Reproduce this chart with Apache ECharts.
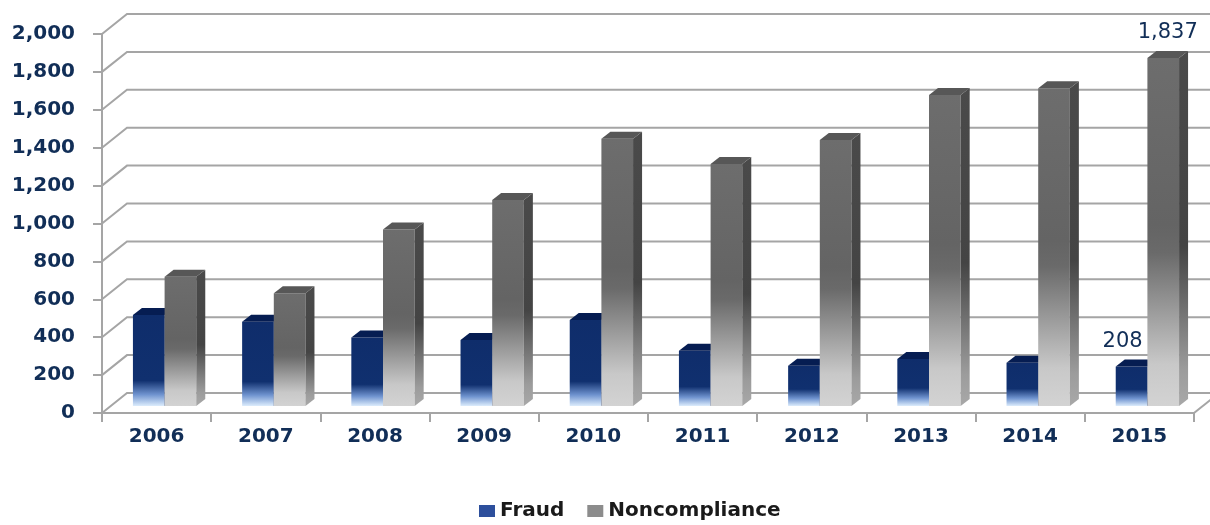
<!DOCTYPE html>
<html><head><meta charset="utf-8">
<script src="https://cdn.jsdelivr.net/npm/echarts@6/dist/echarts.min.js"></script>
<style>html,body{margin:0;padding:0;background:#fff}#c{width:1210px;height:525px}</style>
</head><body><div id="c"></div>
<script>
const years = ['2006','2007','2008','2009','2010','2011','2012','2013','2014','2015'];
const fraud = [480, 445, 362, 348, 454, 292, 213, 248, 228, 208];
const noncompliance = [682, 595, 932, 1087, 1410, 1277, 1404, 1641, 1677, 1837];
const yTicks = [0, 200, 400, 600, 800, 1000, 1200, 1400, 1600, 1800, 2000];
const labeledYear = '2015';

const FONT = 'DejaVu Sans';
const NAVY = '#112e57';
const GRID_GRAY = '#a5a5a5';

const chart = echarts.init(document.getElementById('c'), null, {renderer: 'canvas'});

function fmt(v) { return v.toLocaleString('en-US'); }

function wallRender(params, api) {
  const cs = params.coordSys;
  const v = api.value(1);
  const y = api.coord([0, v])[1];
  const x0 = cs.x, x1 = cs.x + cs.width;
  const dx = 25, dy = 20;
  const children = [{
    type: 'polyline',
    shape: {points: [[x0, y], [x0 + dx, y - dy], [x1 + 60, y - dy]]},
    style: {stroke: GRID_GRAY, lineWidth: 2, fill: null}
  }];
  if (v === 0) {
    children.push({
      type: 'line',
      shape: {x1: x1, y1: y, x2: x1 + dx, y2: y - dy},
      style: {stroke: GRID_GRAY, lineWidth: 2}
    });
  }
  return {type: 'group', children: children};
}

function barRender(which) {
  return function (params, api) {
    const i = api.value(0), v = api.value(1);
    const base = api.coord([i, 0]);
    const top = api.coord([i, v]);
    const band = api.size([1, 0])[0];
    const w = band * 0.29;
    const cx = base[0];
    const xL = which === 0 ? cx - w : cx;
    const xR = xL + w;
    const yT = top[1], yB = base[1];
    const h = yB - yT;
    const d = 9, dy = 7;
    let frontFill, sideFill, capFill;
    if (which === 0) {
      const fadeLen = 10 + 0.17 * h;
      const s = Math.max(0, 1 - fadeLen / h);
      frontFill = {type: 'linear', x: 0, y: 0, x2: 0, y2: 1, colorStops: [
        {offset: 0, color: '#0f2d6b'}, {offset: s, color: '#10306f'},
        {offset: s + (1 - s) * 0.55, color: '#6f93cf'}, {offset: 1, color: '#dcecfc'}]};
      sideFill = '#0a2560';
      capFill = '#061d52';
    } else {
      frontFill = {type: 'linear', x: 0, y: 0, x2: 0, y2: 1, colorStops: [
        {offset: 0, color: '#6d6d6d'}, {offset: 0.48, color: '#646464'},
        {offset: 0.56, color: '#6a6a6a'}, {offset: 0.88, color: '#c8c8c8'},
        {offset: 1, color: '#d3d3d3'}]};
      sideFill = {type: 'linear', x: 0, y: 0, x2: 0, y2: 1, colorStops: [
        {offset: 0, color: '#4a4a4a'}, {offset: 0.55, color: '#444444'},
        {offset: 0.9, color: '#9c9c9c'}, {offset: 1, color: '#a8a8a8'}]};
      capFill = '#575757';
    }
    const children = [
      {type: 'rect', shape: {x: xL, y: yT, width: w, height: h}, style: {fill: frontFill}},
      {type: 'polygon', shape: {points: [[xR, yT], [xR + d, yT - dy], [xR + d, yB - dy], [xR, yB]]}, style: {fill: sideFill}},
      {type: 'polygon', shape: {points: [[xL, yT], [xL + d, yT - dy], [xR + d, yT - dy], [xR, yT]]}, style: {fill: capFill}}
    ];
    if (years[i] === labeledYear) {
      children.push({
        type: 'text',
        style: {
          text: fmt(v), x: which === 0 ? (xL + w / 2 - 9) : (xL + (w + d) / 2),
          y: yT - dy - 8, align: 'center', verticalAlign: 'bottom',
          fontFamily: FONT, fontSize: 21, fill: NAVY
        }
      });
    }
    return {type: 'group', children: children};
  };
}

chart.setOption({
  backgroundColor: '#ffffff',
  animation: false,
  legend: {
    left: 474, top: 496,
    itemWidth: 16, itemHeight: 12, itemGap: 23,
    textStyle: {fontFamily: FONT, fontWeight: 'bold', fontSize: 20, color: '#1a1a1a', padding: [14, 0, 0, 0]},
    data: [
      {name: 'Fraud', icon: 'rect', itemStyle: {color: '#2d4f9c'}},
      {name: 'Noncompliance', icon: 'rect', itemStyle: {color: '#8c8c8c'}}
    ]
  },
  grid: [
    {left: 102, right: 16, top: 34, bottom: 112},
    {left: 110, right: 8, top: 27, bottom: 119}
  ],
  xAxis: [
    {
      type: 'category', gridIndex: 0, data: years, boundaryGap: true,
      axisLine: {show: true, lineStyle: {color: GRID_GRAY, width: 2}},
      axisTick: {show: true, length: 9, interval: 0, lineStyle: {color: GRID_GRAY, width: 2}},
      axisLabel: {margin: 14, color: NAVY, fontFamily: FONT, fontWeight: 'bold', fontSize: 20},
      splitLine: {show: false}
    },
    {type: 'category', gridIndex: 1, data: years, show: false}
  ],
  yAxis: [
    {
      type: 'value', gridIndex: 0, min: 0, max: 2000, interval: 200,
      axisLine: {show: true, lineStyle: {color: GRID_GRAY, width: 2}},
      axisTick: {show: true, length: 9, lineStyle: {color: GRID_GRAY, width: 2}},
      axisLabel: {margin: 27, color: NAVY, fontFamily: FONT, fontWeight: 'bold', fontSize: 20, formatter: v => fmt(v)},
      splitLine: {show: false}
    },
    {type: 'value', gridIndex: 1, min: 0, max: 2000, interval: 200, show: false, splitLine: {show: false}}
  ],
  series: [
    {
      type: 'custom', name: 'wall', xAxisIndex: 0, yAxisIndex: 0, silent: true, z: 1,
      data: yTicks.map(v => [0, v]), renderItem: wallRender
    },
    {
      type: 'custom', name: 'Fraud', xAxisIndex: 1, yAxisIndex: 1, z: 3,
      itemStyle: {color: '#2d4f9c'},
      data: fraud.map((v, i) => [i, v]), renderItem: barRender(0)
    },
    {
      type: 'custom', name: 'Noncompliance', xAxisIndex: 1, yAxisIndex: 1, z: 3,
      itemStyle: {color: '#8c8c8c'},
      data: noncompliance.map((v, i) => [i, v]), renderItem: barRender(1)
    }
  ]
});
</script></body></html>
